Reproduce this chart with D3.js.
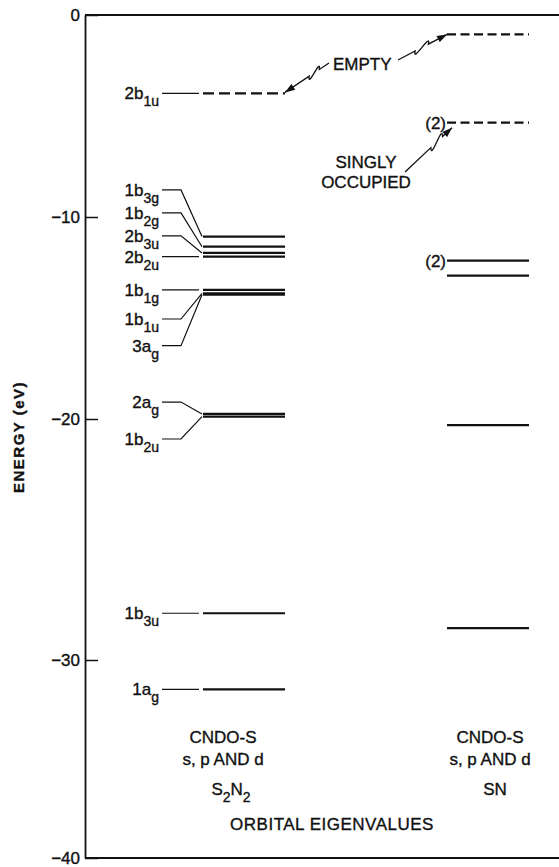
<!DOCTYPE html>
<html>
<head>
<meta charset="utf-8">
<script src="https://cdn.jsdelivr.net/npm/d3@7"></script>
<style>
  body { margin: 0; background: #fff; }
  text { font-family: 'Liberation Sans', Arial, sans-serif; fill: #111; stroke: #111; stroke-width: 0.35px; }
</style>
</head>
<body>
<svg id="chart" width="559" height="867"></svg>
<script>
// energy levels (eV)
var columns = ['S2N2', 'SN'];
var yTicks = [0, -10, -20, -30, -40];

var s2n2Sym = ['2b', '1b', '1b', '2b', '2b', '1b', '1b', '3a', '2a', '1b', '1b', '1a'];
var s2n2Sub = ['1u', '3g', '2g', '3u', '2u', '1g', '1u', 'g', 'g', '2u', '3u', 'g'];
var s2n2Energy = [-3.88, -10.97, -11.47, -11.78, -11.96, -13.61, -13.78, -13.85, -19.75, -19.88, -28.06, -31.48];
var s2n2Empty = [true, false, false, false, false, false, false, false, false, false, false, false];
// where each tag sits on the energy axis (labels are spread apart)
var s2n2LabelAt = [-3.88, -8.66, -9.80, -10.93, -11.96, -13.61, -15.05, -16.37, -19.16, -20.83, -28.06, -31.48];

var snEnergy = [-0.96, -5.33, -12.16, -12.9, -20.25, -28.68];
var snDegen = ['', '(2)', '(2)', '', '', ''];
var snDashed = [true, true, false, false, false, false];

var svg = d3.select('#chart');

// the original axis is hand drawn and not quite uniform
var y = d3.scaleLinear().domain(yTicks).range([15, 217, 419, 660, 858]);
var x = d3.scaleBand().domain(columns).range([203, 529]).paddingInner(0.664).paddingOuter(0);
var left = 85, right = 559;

svg.append('defs').append('marker')
   .attr('id', 'arrow')
   .attr('viewBox', '0 0 10 7')
   .attr('refX', 10).attr('refY', 3.5)
   .attr('markerWidth', 11).attr('markerHeight', 7)
   .attr('markerUnits', 'userSpaceOnUse')
   .attr('orient', 'auto')
   .append('path').attr('d', 'M0,0 L10,3.5 L0,7 z').attr('fill', '#111');

// axis
var axis = d3.axisLeft(y).tickValues(yTicks).tickSizeInner(-13).tickSizeOuter(0).tickPadding(5);
var gAxis = svg.append('g').attr('transform', 'translate(' + left + ',0)').call(axis);
gAxis.select('.domain').attr('stroke', '#111').attr('stroke-width', 1.8);
gAxis.selectAll('.tick line').attr('stroke', '#111').attr('stroke-width', 1.5);
gAxis.selectAll('.tick text').style('font-size', '17px').style('font-family', 'Liberation Sans').attr('fill', '#111');

svg.append('line').attr('x1', left).attr('x2', right).attr('y1', y(0)).attr('y2', y(0))
   .attr('stroke', '#111').attr('stroke-width', 1.8);
svg.append('line').attr('x1', left).attr('x2', right).attr('y1', y(-40)).attr('y2', y(-40))
   .attr('stroke', '#111').attr('stroke-width', 1.8);

svg.append('text')
   .attr('transform', 'translate(24,' + (y(-20) + 18) + ') rotate(-90)')
   .attr('text-anchor', 'middle')
   .style('font-size', '15px').style('font-weight', 'bold').style('letter-spacing', '1.5px')
   .text('ENERGY (eV)');

// S2N2 column
var x0 = x('S2N2'), x1 = x0 + x.bandwidth();
var tagEnd = 159, connStart = 162, bendX = 181;

var g1 = svg.append('g');
g1.selectAll('line.level')
  .data(s2n2Energy)
  .enter()
  .append('line')
  .attr('class', 'level')
  .attr('x1', x0).attr('x2', x1)
  .attr('y1', d => y(d)).attr('y2', d => y(d))
  .attr('stroke', '#111')
  .attr('stroke-width', 2.2)
  .attr('stroke-dasharray', (d, i) => s2n2Empty[i] ? '11,5' : null);

g1.selectAll('path.conn')
  .data(s2n2Energy)
  .enter()
  .append('path')
  .attr('class', 'conn')
  .attr('fill', 'none')
  .attr('stroke', '#111')
  .attr('stroke-width', 1.2)
  .attr('d', function(d, i) {
      var yl = y(s2n2LabelAt[i]), ye = y(d);
      if (Math.abs(yl - ye) < 1) return 'M' + connStart + ',' + ye + 'H' + (x0 - 4);
      return 'M' + connStart + ',' + yl + 'H' + bendX + 'L' + (x0 - 1) + ',' + ye;
  });

g1.selectAll('text.tag')
  .data(s2n2Sym)
  .enter()
  .append('text')
  .attr('class', 'tag')
  .attr('x', tagEnd)
  .attr('y', (d, i) => y(s2n2LabelAt[i]) + 6)
  .attr('text-anchor', 'end')
  .style('font-size', '17px')
  .each(function(d, i) {
      var t = d3.select(this);
      t.append('tspan').text(d);
      t.append('tspan').attr('dy', 7).style('font-size', '14px').text(s2n2Sub[i]);
  });

// SN column
var xs0 = x('SN'), xs1 = xs0 + x.bandwidth();
var g2 = svg.append('g');
g2.selectAll('line')
  .data(snEnergy)
  .enter()
  .append('line')
  .attr('x1', xs0).attr('x2', xs1)
  .attr('y1', d => y(d)).attr('y2', d => y(d))
  .attr('stroke', '#111')
  .attr('stroke-width', 2.2)
  .attr('stroke-dasharray', (d, i) => snDashed[i] ? '9,4.5' : null);

g2.selectAll('text')
  .data(snEnergy)
  .enter()
  .append('text')
  .attr('x', xs0 - 1)
  .attr('y', d => y(d) + 6)
  .attr('text-anchor', 'end')
  .style('font-size', '17px')
  .text((d, i) => snDegen[i]);

// squiggly arrows
function squiggle(ax, ay, bx, by, f0, f1) {
    var dx = bx - ax, dy = by - ay, L = Math.hypot(dx, dy);
    var ux = dx / L, uy = dy / L, vx = -uy, vy = ux;
    var P = [ax + ux * L * f0, ay + uy * L * f0], Q = [ax + ux * L * f1, ay + uy * L * f1];
    var w = 10, b = 9;
    var c1 = [P[0] - ux * b + vx * w, P[1] - uy * b + vy * w];
    var c2 = [Q[0] + ux * b - vx * w, Q[1] + uy * b - vy * w];
    svg.append('path')
       .attr('fill', 'none').attr('stroke', '#111').attr('stroke-width', 1.3)
       .attr('marker-end', 'url(#arrow)')
       .attr('d', 'M' + ax + ',' + ay + 'L' + P + 'C' + c1 + ' ' + c2 + ' ' + Q + 'L' + bx + ',' + by);
}
squiggle(329, 63, x1, y(s2n2Energy[0]) - 1, 0.22, 0.45);
squiggle(398, 60, xs0, y(snEnergy[0]), 0.35, 0.62);
squiggle(405, 172, xs0 + 5, y(snEnergy[1]) + 5, 0.55, 0.8);

svg.append('text').attr('x', 333).attr('y', 70).style('font-size', '17px').text('EMPTY');
svg.append('text').attr('x', 366).attr('y', 168).attr('text-anchor', 'middle').style('font-size', '17px').text('SINGLY');
svg.append('text').attr('x', 366).attr('y', 188).attr('text-anchor', 'middle').style('font-size', '17px').text('OCCUPIED');

// captions under the columns
var capX = [x0 + 20, xs0 + 43];
var caps = svg.append('g').selectAll('g').data(columns).enter().append('g')
   .attr('transform', (d, i) => 'translate(' + capX[i] + ',0)');
caps.append('text').attr('y', 743).attr('text-anchor', 'middle').style('font-size', '17px').text('CNDO-S');
caps.append('text').attr('y', 765).attr('text-anchor', 'middle').style('font-size', '17px').text('s, p AND d');
caps.append('text').attr('x', (d, i) => i === 0 ? 8 : 5).attr('y', 795).attr('text-anchor', 'middle').style('font-size', '17px')
   .each(function(d) {
       var t = d3.select(this);
       if (d === 'S2N2') {
           t.append('tspan').text('S');
           t.append('tspan').attr('dy', 7).style('font-size', '14px').text('2');
           t.append('tspan').attr('dy', -7).text('N');
           t.append('tspan').attr('dy', 7).style('font-size', '14px').text('2');
       } else {
           t.text(d);
       }
   });

svg.append('text').attr('x', 332).attr('y', 830).attr('text-anchor', 'middle').style('font-size', '17px')
   .style('letter-spacing', '0.5px').text('ORBITAL EIGENVALUES');
</script>
</body>
</html>
